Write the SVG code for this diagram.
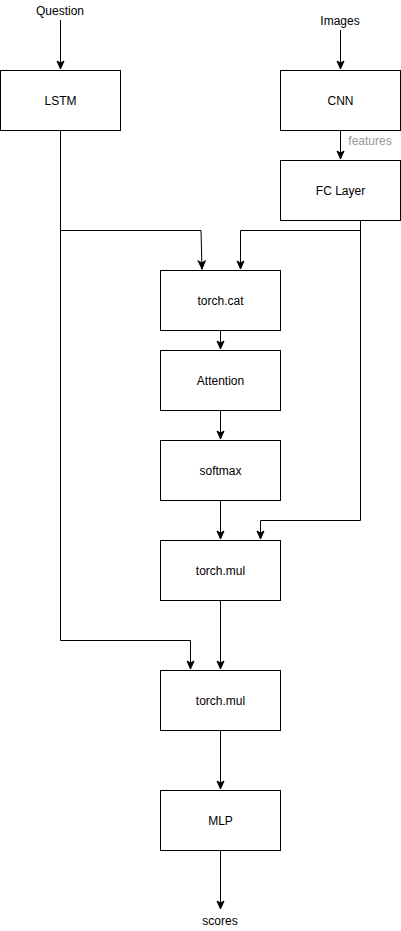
<svg xmlns="http://www.w3.org/2000/svg" width="401" height="931" viewBox="0 0 401 931">
<style>
.box{fill:#fff;stroke:#000;stroke-width:1}
.e{fill:none;stroke:#000;stroke-width:1}
text{font-family:"Liberation Sans",Arial,sans-serif;font-size:12px;text-anchor:middle;fill:#000}
.lbl{fill:#999}
</style>
<defs>
<marker id="a" markerUnits="userSpaceOnUse" markerWidth="10" markerHeight="10" viewBox="0 0 10 10" refX="9" refY="5" orient="auto">
<path d="M1,1.5 L9,5 L1,8.5 L3,5 Z" fill="#000" stroke="#000" stroke-width="1"/>
</marker>
</defs>
<rect width="401" height="931" fill="#fff"/>
<g id="connectors">
<path class="e" d="M60.5,20 V69" marker-end="url(#a)"/>
<path class="e" d="M340.5,30 V69" marker-end="url(#a)"/>
<path class="e" d="M340.5,130.5 V159" marker-end="url(#a)"/>
<path class="e" d="M60.5,130.5 V230.5 H201 L202,269" marker-end="url(#a)"/>
<path class="e" d="M60.5,230.5 V640.5 H190.5 V669" marker-end="url(#a)"/>
<path class="e" d="M360.5,220.5 V230.5 H240.5 V269" marker-end="url(#a)"/>
<path class="e" d="M360.5,230.5 V520.5 H260.5 V539" marker-end="url(#a)"/>
<path class="e" d="M220.5,330.5 V349" marker-end="url(#a)"/>
<path class="e" d="M220.5,410.5 V439" marker-end="url(#a)"/>
<path class="e" d="M220.5,500.5 V539" marker-end="url(#a)"/>
<path class="e" d="M220.5,600.5 V669" marker-end="url(#a)"/>
<path class="e" d="M220.5,730.5 V789" marker-end="url(#a)"/>
<path class="e" d="M220.5,850.5 V909" marker-end="url(#a)"/>
<text class="lbl" x="370" y="145">features</text>
</g>
<g id="question"><text x="60" y="15">Question</text></g>
<g id="images"><text x="340" y="25">Images</text></g>
<g id="lstm"><rect class="box" x="0.5" y="70.5" width="120" height="60"/><text x="60.5" y="105">LSTM</text></g>
<g id="cnn"><rect class="box" x="280.5" y="70.5" width="120" height="60"/><text x="340.5" y="105">CNN</text></g>
<g id="fc"><rect class="box" x="280.5" y="160.5" width="120" height="60"/><text x="340.5" y="195">FC Layer</text></g>
<g id="cat"><rect class="box" x="160.5" y="270.5" width="120" height="60"/><text x="220.5" y="305">torch.cat</text></g>
<g id="attention"><rect class="box" x="160.5" y="350.5" width="120" height="60"/><text x="220.5" y="385">Attention</text></g>
<g id="softmax"><rect class="box" x="160.5" y="440.5" width="120" height="60"/><text x="220.5" y="475">softmax</text></g>
<g id="mul1"><rect class="box" x="160.5" y="540.5" width="120" height="60"/><text x="220.5" y="575">torch.mul</text></g>
<g id="mul2"><rect class="box" x="160.5" y="670.5" width="120" height="60"/><text x="220.5" y="705">torch.mul</text></g>
<g id="mlp"><rect class="box" x="160.5" y="790.5" width="120" height="60"/><text x="220.5" y="825">MLP</text></g>
<g id="scores"><text x="220" y="925">scores</text></g>
</svg>
